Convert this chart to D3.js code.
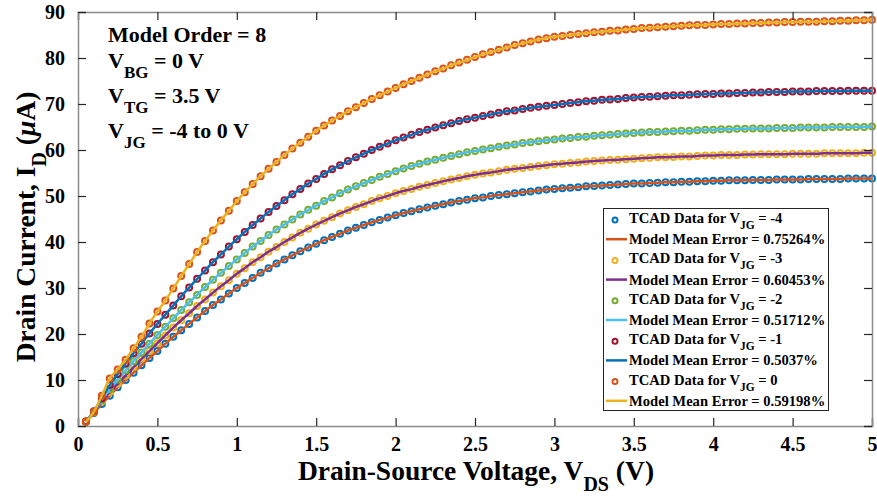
<!DOCTYPE html>
<html><head><meta charset="utf-8">
<script src="https://cdn.jsdelivr.net/npm/d3@7"></script>
<style>
html,body{margin:0;padding:0;background:#fff;}
svg text{font-family:"Liberation Serif","Times New Roman",serif;font-weight:bold;fill:#000;}
</style></head>
<body><svg id="c" width="877" height="500"></svg>
<script>
// ---------- data ----------
const vds = [0.05,0.1,0.15,0.2,0.25,0.3,0.35,0.4,0.45,0.5,0.55,0.6,0.65,0.7,0.75,0.8,0.85,0.9,0.95,1.0,
1.05,1.1,1.15,1.2,1.25,1.3,1.35,1.4,1.45,1.5,1.55,1.6,1.65,1.7,1.75,1.8,1.85,1.9,1.95,2.0,
2.05,2.1,2.15,2.2,2.25,2.3,2.35,2.4,2.45,2.5,2.55,2.6,2.65,2.7,2.75,2.8,2.85,2.9,2.95,3.0,
3.05,3.1,3.15,3.2,3.25,3.3,3.35,3.4,3.45,3.5,3.55,3.6,3.65,3.7,3.75,3.8,3.85,3.9,3.95,4.0,
4.05,4.1,4.15,4.2,4.25,4.3,4.35,4.4,4.45,4.5,4.55,4.6,4.65,4.7,4.75,4.8,4.85,4.9,4.95,5.0];

const idVjgM4 = [0.9,2.8,4.8,6.6,8.4,10.0,11.6,13.2,14.8,16.3,17.9,19.4,20.8,22.2,23.6,25.0,26.3,27.5,28.8,30.0,
31.1,32.2,33.3,34.3,35.3,36.2,37.1,38.0,38.8,39.6,40.4,41.1,41.8,42.5,43.1,43.7,44.3,44.8,45.3,45.8,
46.3,46.7,47.1,47.5,47.9,48.2,48.6,48.9,49.2,49.5,49.7,50.0,50.2,50.4,50.6,50.8,51.0,51.2,51.4,51.5,
51.7,51.8,51.9,52.1,52.2,52.3,52.4,52.5,52.6,52.7,52.7,52.8,52.9,53.0,53.0,53.1,53.1,53.2,53.2,53.3,
53.3,53.4,53.4,53.4,53.5,53.5,53.5,53.6,53.6,53.6,53.6,53.7,53.7,53.7,53.7,53.7,53.8,53.8,53.8,53.8];

const idVjgM3 = [1.0,3.0,5.3,7.4,9.2,11.0,12.8,14.6,16.3,18.0,19.7,21.4,23.0,24.5,26.1,27.5,29.0,30.4,31.7,33.1,
34.3,35.6,36.7,37.9,38.9,40.0,41.0,42.0,42.9,43.8,44.6,45.4,46.2,46.9,47.6,48.2,48.9,49.5,50.0,50.6,
51.1,51.5,52.0,52.4,52.8,53.2,53.6,53.9,54.3,54.6,54.9,55.1,55.4,55.7,55.9,56.1,56.3,56.5,56.7,56.9,
57.0,57.2,57.3,57.5,57.6,57.7,57.8,57.9,58.0,58.1,58.2,58.3,58.4,58.4,58.5,58.6,58.6,58.7,58.8,58.8,
58.9,58.9,58.9,59.0,59.0,59.1,59.1,59.1,59.1,59.2,59.2,59.2,59.2,59.3,59.3,59.3,59.3,59.3,59.4,59.4];

const idVjgM2 = [1.0,3.1,5.6,8.0,10.1,12.1,14.1,16.0,17.9,19.8,21.6,23.4,25.2,26.9,28.5,30.2,31.8,33.3,34.8,36.2,
37.6,39.0,40.2,41.5,42.7,43.8,44.9,46.0,47.0,47.9,48.9,49.7,50.6,51.4,52.1,52.8,53.5,54.2,54.8,55.4,
56.0,56.5,57.0,57.5,57.9,58.3,58.7,59.1,59.5,59.8,60.1,60.4,60.7,61.0,61.2,61.5,61.7,61.9,62.1,62.3,
62.5,62.6,62.8,62.9,63.1,63.2,63.3,63.5,63.6,63.7,63.8,63.9,63.9,64.0,64.1,64.2,64.2,64.3,64.4,64.4,
64.5,64.5,64.6,64.6,64.7,64.7,64.7,64.8,64.8,64.8,64.9,64.9,64.9,64.9,65.0,65.0,65.0,65.0,65.0,65.1];

const idVjgM1 = [1.0,3.2,6.0,8.9,11.3,13.6,15.8,17.9,20.1,22.2,24.2,26.2,28.2,30.1,32.0,33.8,35.6,37.3,39.0,40.6,
42.2,43.7,45.1,46.5,47.8,49.1,50.4,51.5,52.7,53.7,54.8,55.8,56.7,57.6,58.4,59.2,60.0,60.7,61.4,62.1,
62.7,63.3,63.9,64.4,64.9,65.4,65.8,66.3,66.7,67.0,67.4,67.7,68.1,68.4,68.6,68.9,69.2,69.4,69.6,69.8,
70.0,70.2,70.4,70.6,70.7,70.9,71.0,71.1,71.3,71.4,71.5,71.6,71.7,71.8,71.9,71.9,72.0,72.1,72.2,72.2,
72.3,72.3,72.4,72.4,72.5,72.5,72.6,72.6,72.6,72.7,72.7,72.7,72.8,72.8,72.8,72.8,72.9,72.9,72.9,72.9];

const idVjg0 = [0.9,3.1,6.6,10.3,12.3,14.4,16.9,19.4,22.3,24.9,27.3,29.9,32.6,35.2,37.8,40.2,42.5,44.7,46.8,48.9,
50.8,52.6,54.3,55.9,57.4,58.9,60.3,61.6,62.9,64.2,65.3,66.4,67.4,68.4,69.3,70.2,71.1,71.9,72.7,73.5,
74.3,75.0,75.7,76.4,77.1,77.7,78.4,79.0,79.6,80.2,80.8,81.3,81.8,82.3,82.8,83.2,83.6,84.0,84.3,84.6,
84.8,85.0,85.2,85.4,85.6,85.7,85.9,86.0,86.2,86.3,86.5,86.6,86.7,86.8,86.9,87.0,87.1,87.2,87.2,87.3,
87.4,87.4,87.5,87.5,87.6,87.6,87.7,87.7,87.8,87.8,87.9,87.9,87.9,88.0,88.0,88.1,88.1,88.2,88.2,88.3];

const vjgLabels = ["-4","-3","-2","-1","0"];
const meanErrors = ["0.75264%","0.60453%","0.51712%","0.5037%","0.59198%"];
const seriesData = [idVjgM4, idVjgM3, idVjgM2, idVjgM1, idVjg0];
const markerColors = ["#0072BD","#EDB120","#77AC30","#A2142F","#D95319"];
const modelColors  = ["#D95319","#7E2F8E","#4DBEEE","#0072BD","#EDB120"];

const xTicks = [0,0.5,1,1.5,2,2.5,3,3.5,4,4.5,5];
const xTickLabels = ["0","0.5","1","1.5","2","2.5","3","3.5","4","4.5","5"];
const yTicks = [0,10,20,30,40,50,60,70,80,90];
const yTickLabels = ["0","10","20","30","40","50","60","70","80","90"];

// ---------- chart ----------
const svg = d3.select("#c");
svg.append("rect").attr("width",877).attr("height",500).attr("fill","#fff");
const L=78,R=872,T=12,B=426;
const x = d3.scaleLinear().domain([0,5]).range([L,R]);
const y = d3.scaleLinear().domain([0,90]).range([B,T]);

const plot = svg.append("g");
const line = d3.line().x((d,i)=>x(vds[i])).y(d=>y(d)).curve(d3.curveMonotoneX);

seriesData.forEach((s,k)=>{
  plot.append("g").selectAll("circle").data(s).enter().append("circle")
    .attr("cx",(d,i)=>x(vds[i])).attr("cy",d=>y(d)).attr("r",3)
    .attr("fill","none").attr("stroke",markerColors[k]).attr("stroke-width",2);
  plot.append("path").datum(s).attr("d",line).attr("fill","none")
    .attr("stroke",modelColors[k]).attr("stroke-width",2.5);
});

// axes
const tickLen = 8;
const gx = svg.append("g").attr("transform",`translate(0,${B})`)
  .call(d3.axisBottom(x).tickValues(xTicks).tickSize(-tickLen).tickPadding(11)
    .tickFormat((d,i)=>xTickLabels[i]));
const gxt = svg.append("g").attr("transform",`translate(0,${T})`)
  .call(d3.axisTop(x).tickValues(xTicks).tickSize(-tickLen).tickFormat(""));
const gy = svg.append("g").attr("transform",`translate(${L},0)`)
  .call(d3.axisLeft(y).tickValues(yTicks).tickSize(-tickLen).tickPadding(13)
    .tickFormat((d,i)=>yTickLabels[i]));
const gyr = svg.append("g").attr("transform",`translate(${R},0)`)
  .call(d3.axisRight(y).tickValues(yTicks).tickSize(-tickLen).tickFormat(""));
[gx,gxt,gy,gyr].forEach(g=>{
  g.select(".domain").attr("stroke","#8c8c8c").attr("stroke-width",1.5);
  g.selectAll(".tick line").attr("stroke","#262626").attr("stroke-width",1.2);
  g.selectAll("text").attr("font-size",20).attr("font-family","Liberation Serif").attr("font-weight","bold").attr("fill","#262626");
});

// axis titles
const xl = svg.append("text").attr("x",476).attr("y",480).attr("text-anchor","middle").attr("font-size",27.5);
xl.append("tspan").text("Drain-Source Voltage, V");
xl.append("tspan").text("DS").attr("font-size",20).attr("dy",11);
xl.append("tspan").text(" (V)").attr("dy",-11);

const yl = svg.append("text").attr("transform",`translate(35,227) rotate(-90)`).attr("text-anchor","middle").attr("font-size",27.5);
yl.append("tspan").text("Drain Current, I");
yl.append("tspan").text("D").attr("font-size",20).attr("dy",11);
yl.append("tspan").text(" (").attr("dy",-11);
yl.append("tspan").text("μ").attr("font-style","italic");
yl.append("tspan").text("A)");

// annotations
svg.append("text").attr("x",108).attr("y",42).attr("font-size",22).text("Model Order = 8");
const annLines = [["BG"," = 0 V"],["TG"," = 3.5 V"],["JG"," = -4 to 0 V"]];
const annY = [68,103,138];
annLines.forEach((a,i)=>{
  const t = svg.append("text").attr("x",108).attr("y",annY[i]).attr("font-size",22);
  t.append("tspan").text("V");
  t.append("tspan").text(a[0]).attr("font-size",17).attr("dy",10);
  t.append("tspan").text(a[1]).attr("dy",-10);
});

// legend
const lg = svg.append("g");
lg.append("rect").attr("x",603.5).attr("y",208.5).attr("width",225).attr("height",202)
  .attr("fill","#fff").attr("stroke","#262626").attr("stroke-width",1);
vjgLabels.forEach((v,k)=>{
  const y1 = 219 + k*40.4, y2 = y1 + 20.2;
  lg.append("circle").attr("cx",615).attr("cy",y1+1).attr("r",2.5).attr("fill","none")
    .attr("stroke",markerColors[k]).attr("stroke-width",2);
  const t1 = lg.append("text").attr("x",629).attr("y",y1+4).attr("font-size",14.6);
  t1.append("tspan").text("TCAD Data for V");
  t1.append("tspan").text("JG").attr("font-size",11.5).attr("dy",6);
  t1.append("tspan").text(" = "+v).attr("dy",-6);
  lg.append("line").attr("x1",606).attr("x2",627).attr("y1",y2).attr("y2",y2)
    .attr("stroke",modelColors[k]).attr("stroke-width",2.5);
  lg.append("text").attr("x",629).attr("y",y2+5).attr("font-size",14.6).text("Model Mean Error = "+meanErrors[k]);
});
</script></body></html>
